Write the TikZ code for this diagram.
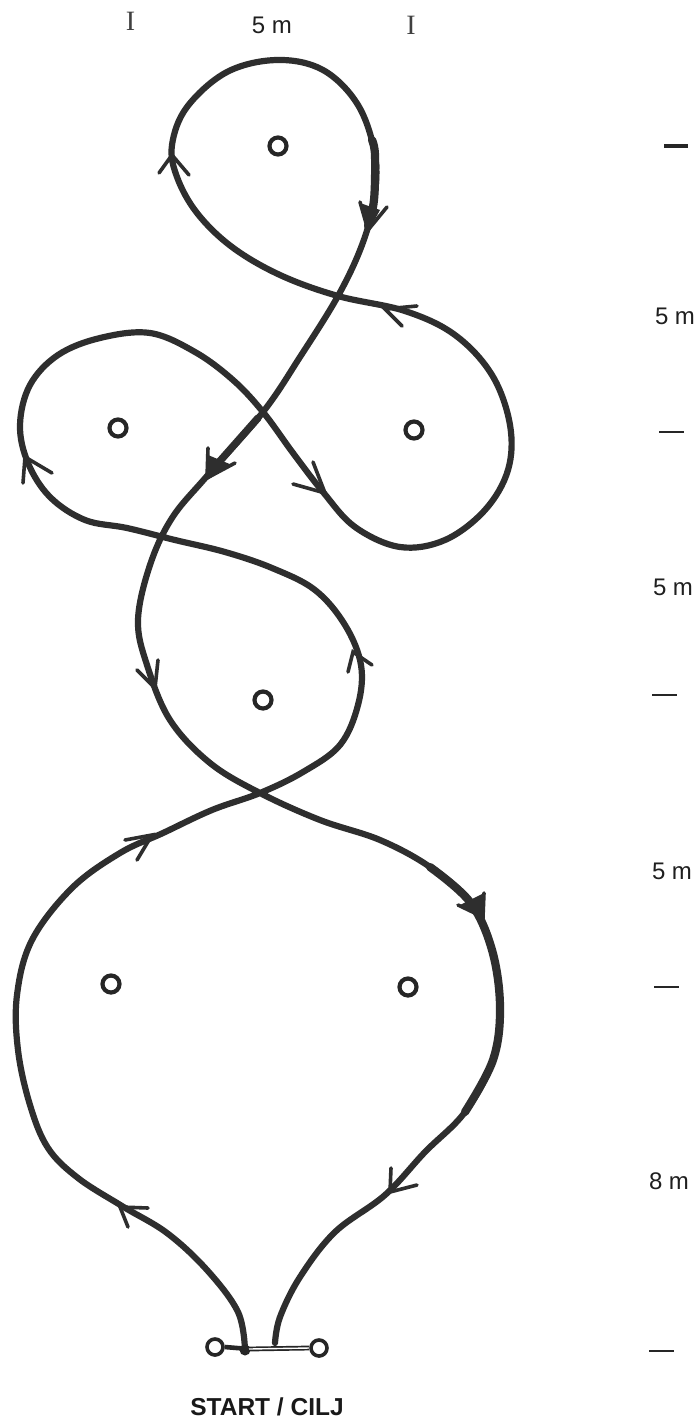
\documentclass[tikz,border=0pt]{standalone}
\usepackage{fontspec}
\setmainfont{Liberation Sans}
\newfontfamily\serifI{Liberation Serif}
\tikzset{
  x=1pt,y=-1pt,
  course/.style={line width=6.2pt,color=black!82,line cap=round,line join=round},
  heavy/.style={line width=8.2pt,color=black!82,line cap=round,line join=round},
  barb/.style={line width=3.6pt,color=black!82,line cap=round,line join=miter},
  headfill/.style={fill=black!82,draw=none},
  cone/.style={circle,draw=black!85,line width=4.2pt,minimum size=17pt,inner sep=0pt,fill=white},
  gatecone/.style={circle,draw=black!85,line width=3.6pt,minimum size=16pt,inner sep=0pt,fill=white},
  lbl/.style={font=\fontsize{24}{26}\selectfont,text=black!88,inner sep=0pt},
  ilbl/.style={font=\serifI\fontsize{28}{30}\selectfont,text=black!75,inner sep=0pt},
  titlelbl/.style={font=\bfseries\fontsize{24.5}{26}\selectfont,text=black!90,inner sep=0pt},
  tickmark/.style={line width=2.4pt,color=black!85}
}
\newcommand{\arrowbarbs}[6]{\draw[barb] (#3,#4) -- (#1,#2) -- (#5,#6);}
\begin{document}
\begin{tikzpicture}
\useasboundingbox[fill=white] (0,0) rectangle (698,1418);
% course
\draw[course] plot[smooth,tension=0.6] coordinates {
 (245,1350) (238,1312) (207,1270) (167,1233) (122,1206) (78,1178) (48,1148) (30,1105) (18,1050) (17,995) (32,940)
 (72,888) (120,853) (163,833) (212,810) (260,793) (303,772) (340,745) (358,705) (361,665) (345,625) (315,590)
 (272,568) (225,552) (175,540) (127,528) (85,520) (50,497) (28,463) (20,425) (30,385) (58,355) (100,338) (150,333)
 (195,352) (233,380) (263,412) (293,453) (323,492) (355,527) (400,547) (445,540) (485,510) (508,470) (510,425)
 (492,375) (455,335) (405,311) (338,296) (280,275) (232,247) (197,213) (177,177) (172,145) (187,107) (227,72)
 (277,60) (323,70) (358,105) (375,155) (374,200) (362,245) (338,296) (300,357) (263,412) (207,476) (172,518)
 (150,565) (138,620) (147,665) (170,720) (210,763) (260,793) (320,820) (380,840) (430,867) (470,902) (492,950)
 (500,1007) (493,1060) (465,1112) (425,1152) (385,1195) (335,1232) (300,1277) (280,1317) (275,1343)};
% heavier stretches
\draw[heavy] plot[smooth,tension=0.6] coordinates {(372,140) (375,155) (374,200) (368,226)};
\draw[heavy,line width=7.4pt] (258,418) -- (212,470);
\draw[heavy] plot[smooth,tension=0.6] coordinates {(430,867) (470,902) (492,950) (500,1007) (493,1060) (465,1112)};
% filled arrow heads
\fill[headfill] (360,203) -- (380,210) -- (368,232) -- cycle;
\fill[headfill] (207,480) -- (208,455) -- (232,465) -- cycle;
\fill[headfill] (484,918) -- (484,893) -- (460,905) -- cycle;
% arrowheads
\arrowbarbs{368}{230}{360}{202}{387}{207}
\arrowbarbs{172}{155}{159}{173}{189}{175}
\arrowbarbs{385}{309}{417}{306}{402}{326}
\arrowbarbs{325}{493}{293}{484}{313}{462}
\arrowbarbs{207}{478}{208}{448}{235}{463}
\arrowbarbs{25}{457}{23}{483}{52}{473}
\arrowbarbs{155}{688}{137}{670}{158}{660}
\arrowbarbs{353}{652}{348}{672}{372}{665}
\arrowbarbs{152}{835}{125}{840}{137}{860}
\arrowbarbs{483}{917}{458}{905}{484}{893}
\arrowbarbs{390}{1192}{391}{1168}{417}{1185}
\arrowbarbs{120}{1207}{148}{1208}{128}{1227}
% cones
\node[cone] (c1) at (278,146) {};
\node[cone] (c2) at (118,428) {};
\node[cone] (c3) at (414,430) {};
\node[cone] (c4) at (263,700) {};
\node[cone] (c5) at (111,984) {};
\node[cone] (c6) at (408,987) {};
% start gate
\node[gatecone] (g1) at (215,1347) {};
\node[gatecone] (g2) at (319,1348) {};
\coordinate (ga) at (249,1349);
\draw[line width=4.6pt,black!85] (g1.east) -- (ga);
\fill[black!85] (245,1350) circle (5.5);
\draw[line width=1.7pt,black!85,double=white,double distance=1.4pt] (ga) -- (g2.west);
% labels
\node[ilbl] (i1) at (130.5,21) {I};
\node[ilbl] (i2) at (411,25) {I};
\node[lbl] (top) at (272,25) {5 m};
\node[lbl] (d1) at (675,316) {5 m};
\node[lbl] (d2) at (673,587) {5 m};
\node[lbl] (d3) at (672,871) {5 m};
\node[lbl] (d4) at (669,1181) {8 m};
\node[titlelbl] (t) at (267,1407) {START / CILJ};
% distance marks
\draw[tickmark,line width=3.2pt] (664,146) -- (688,146);
\draw[tickmark,line width=1.6pt] (659,432) -- (684,432);
\draw[tickmark] (652,695) -- (677,695);
\draw[tickmark] (654,987) -- (679,987);
\draw[tickmark] (649,1351) -- (674,1351);
\end{tikzpicture}
\end{document}
